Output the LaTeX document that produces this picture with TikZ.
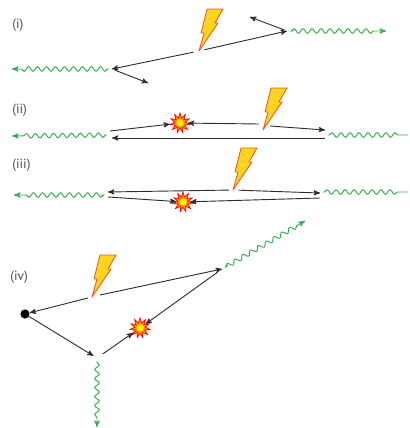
\documentclass[tikz,border=0pt]{standalone}
\usepackage{fontspec}
\setsansfont{PT Sans}
\usepackage{tikz}
\usetikzlibrary{arrows,shapes,decorations.pathmorphing}

\definecolor{photongreen}{RGB}{55,175,80}
\definecolor{linegray}{RGB}{45,45,45}
\definecolor{boltyellow}{RGB}{255,212,30}
\definecolor{boltred}{RGB}{238,85,35}
\definecolor{labelgray}{RGB}{80,80,80}

\tikzset{
  fermion/.style = {->, draw=linegray, line width=0.65pt},% trait noir
  photon/.style = {->, draw=photongreen, line width=0.7pt, decorate,
    decoration={snake, amplitude=1.6pt, segment length=6.4pt,
      pre length=3pt, post length=6pt}},% onde verte
  burst/.style = {star, star points=11, star point ratio=1.9,
    minimum size=0.5cm, inner sep=0pt, draw=red, fill=orange!90!yellow,
    line width=0.5pt,
    path picture={\fill[yellow] (path picture bounding box.center)
      circle (0.09cm);}},% etoile de collision
  vertexdot/.style = {circle, fill=black, inner sep=0pt,
    minimum size=0.23cm},
  lbl/.style = {anchor=west, inner sep=0pt, text=labelgray,
    font=\sffamily\fontsize{9.5}{11}\selectfont},
  bolt/.pic = {
    \draw[-, draw=boltred, fill=boltyellow, line width=0.6pt,
      line join=round]
      (8,-42) -- (24,-42) -- (16,-28) -- (19,-28) -- (0,0)
      -- (5,-18) -- (2,-18) -- cycle;
  }
}

\begin{document}
\begin{tikzpicture}[x=0.025cm, y=-0.025cm, >=stealth']
\useasboundingbox (0,0) rectangle (409,428);

% (i)
\node[lbl] (lab1) at (12,25) {(i)};
\coordinate (t1) at (199,51);
\coordinate (l1) at (112,69);
\coordinate (r1) at (287,31);
\coordinate (l1e) at (148,83);
\coordinate (r1e) at (250,17);
\coordinate (l1w) at (12,69);
\coordinate (r1w) at (386,31);
\pic at (t1) {bolt};
\draw[fermion, shorten <=4pt] (t1) -- (l1);
\draw[fermion, shorten <=4pt] (t1) -- (r1);
\draw[fermion, shorten <=2pt] (l1) -- (l1e);
\draw[fermion, shorten <=2pt] (r1) -- (r1e);
\draw[photon, shorten <=4pt] (l1) -- (l1w);
\draw[photon, shorten <=5pt] (r1) -- (r1w);

% (ii)
\node[lbl] (lab2) at (12,110) {(ii)};
\coordinate (t2) at (263,130);
\coordinate (t2a) at (259,124);
\coordinate (t2b) at (270,126);
\coordinate (l2) at (110,135);
\coordinate (l2u) at (110,131);
\coordinate (l2d) at (112,138);
\coordinate (r2u) at (325,130);
\coordinate (r2d) at (325,138);
\coordinate (l2w) at (12,136);
\coordinate (r2w) at (408,135);
\pic at (t2) {bolt};
\node[burst] (s2) at (180,123) {};
\draw[fermion] (t2a) -- (s2);
\draw[fermion] (t2b) -- (r2u);
\draw[fermion] (l2u) -- (s2);
\draw[fermion] (r2d) -- (l2d);
\draw[photon, shorten <=4pt] (l2) -- (l2w);
\draw[photon, -, shorten <=2pt] (r2u |- l2) -- (r2w);

% (iii)
\node[lbl] (lab3) at (12,165) {(iii)};
\coordinate (t3) at (233,190);
\coordinate (l3u) at (108,192);
\coordinate (l3d) at (108,197);
\coordinate (r3u) at (320,193);
\coordinate (r3d) at (320,198);
\coordinate (l3w) at (14,195);
\coordinate (r3w) at (408,192);
\pic at (t3) {bolt};
\node[burst] (s3) at (183,202) {};
\draw[fermion, shorten <=3pt] (t3) -- (l3u);
\draw[fermion, shorten <=4pt] (t3) -- (r3u);
\draw[fermion] (l3d) -- (s3);
\draw[fermion] (r3d) -- (s3);
\draw[photon, shorten <=5pt] (l3u |- l3w) -- (l3w);
\draw[photon, -, shorten <=4pt] (r3u |- r3w) -- (r3w);

% (iv)
\node[lbl] (lab4) at (10,277) {(iv)};
\coordinate (t4) at (92,297);
\coordinate (t4a) at (88,298);
\coordinate (t4b) at (100,295);
\node[vertexdot] (d4) at (25,314) {};
\coordinate (r4) at (222,269);
\coordinate (b4) at (97,358);
\coordinate (r4w) at (305,221);
\coordinate (b4w) at (97,427);
\pic at (t4) {bolt};
\node[burst] (s4) at (140,328) {};
\draw[fermion] (t4a) -- (d4);
\draw[fermion] (t4b) -- (r4);
\draw[fermion, shorten >=3pt] (d4) -- (b4);
\draw[fermion, shorten <=5pt] (b4) -- (s4);
\draw[fermion, shorten <=4pt] (r4) -- (s4);
\draw[photon, shorten <=5pt] (r4) -- (r4w);
\draw[photon, shorten <=4pt] (b4) -- (b4w);
\end{tikzpicture}
\end{document}
